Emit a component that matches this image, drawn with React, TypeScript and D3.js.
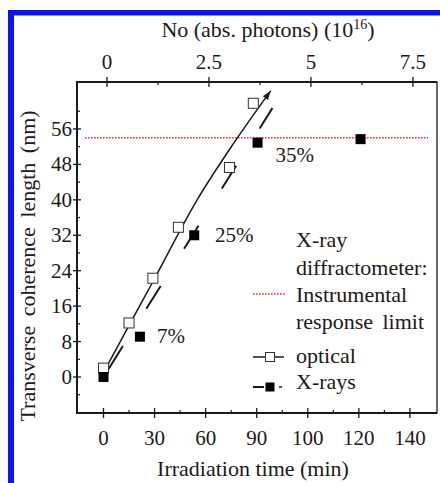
import React from "react";
import * as d3 from "d3";

// ---- data ----
const xTickValues = [0, 30, 60, 90, 120, 150, 180];
const xTickLabels = ["0", "30", "60", "90", "100", "120", "140"];
const yTickValues = [0, 8, 16, 24, 32, 40, 48, 56];
const topTickValues = [0, 2.5, 5, 7.5];
const topTickLabels = ["0", "2.5", "5", "7.5"];

const opticalX = [0, 15, 29, 44, 74, 88];
const opticalY = [2, 12.2, 22.3, 33.8, 47.3, 61.8];
const xrayX = [0, 21.4, 53.3, 90.5, 151];
const xrayY = [0, 9.1, 32, 52.9, 53.7];
const fitX = [0, 15.5, 29, 55, 76, 98.2];
const fitY = [1, 12, 21.5, 40, 52.5, 64.6];
const xrayFitX = [0, 99.2];
const xrayFitY = [0, 60.7];
const instrumentLimit = 54;
const pctLabels = ["7%", "25%", "35%"];
const pctX = [31.5, 65.5, 101];
const pctY = [7.7, 30.5, 48.6];

const FONT =
  '"Liberation Serif", "Times New Roman", Times, Tinos, "Noto Serif", "DejaVu Serif", FreeSerif, "Nimbus Roman", serif';

export default function App() {
  const W = 440, H = 483;
  const L = 77, R = 437, T = 82, B = 413;
  const x = d3.scaleLinear().domain([-15.56, 195.9]).range([L, R]);
  const y = d3.scaleLinear().domain([-8.13, 66.6]).range([B, T]);
  const xt = d3.scaleLinear().domain([-0.735, 8.09]).range([L, R]);
  const ink = "#1a1a1a";

  const fitLine = d3
    .line<number>()
    .x((i) => x(fitX[i]))
    .y((i) => y(fitY[i]))
    .curve(d3.curveMonotoneX)(fitX.map((_, i) => i)) as string;
  const xrayLine = d3
    .line<number>()
    .x((i) => x(xrayFitX[i]))
    .y((i) => y(xrayFitY[i]))(xrayFitX.map((_, i) => i)) as string;

  // arrow direction
  const n = fitX.length;
  const ax = x(fitX[n - 1]), ay = y(fitY[n - 1]);
  const bx = x(fitX[n - 2]), by = y(fitY[n - 2]);
  const ang = Math.atan2(ay - by, ax - bx);
  const ah = 9, aw = 3.2;
  const arrow = [
    [ax, ay],
    [ax - ah * Math.cos(ang) + aw * Math.sin(ang), ay - ah * Math.sin(ang) - aw * Math.cos(ang)],
    [ax - ah * Math.cos(ang) - aw * Math.sin(ang), ay - ah * Math.sin(ang) + aw * Math.cos(ang)],
  ]
    .map((p) => p.join(","))
    .join(" ");

  const xMinor = xTickValues.slice(0, -1).map((v) => v + 15);
  const yMinor = d3.range(-4, 66, 8);
  const topMinor = [1.25, 3.75, 6.25];

  const sq = 10;
  const legX = 296;
  const tp = { fontFamily: FONT, fill: ink } as const;

  return (
    <svg
      width={W}
      height={H}
      style={{ position: "absolute", left: 0, top: 0, background: "#fff", fontFamily: FONT }}
    >
      <rect x={0} y={0} width={W} height={H} fill="#fff" />
      {/* blue border */}
      <rect x={8} y={10} width={6} height={H - 10} fill="#0a14f0" />
      <rect x={8} y={10} width={W - 8} height={5.5} fill="#0a14f0" />

      {/* frame */}
      <rect x={L} y={T} width={R - L} height={B - T} fill="none" stroke={ink} strokeWidth={1.3} />
      <line x1={L - 1} x2={R} y1={B} y2={B} stroke={ink} strokeWidth={2} />
      <line x1={L} x2={L} y1={T} y2={B} stroke={ink} strokeWidth={2} />
      <line x1={L - 1} x2={R} y1={T} y2={T} stroke={ink} strokeWidth={2} />

      {/* bottom ticks */}
      {xTickValues.map((v, i) => (
        <g key={"bx" + i}>
          <line x1={x(v)} x2={x(v)} y1={B - 5} y2={B + 5} stroke={ink} strokeWidth={1.3} />
          <text x={x(v)} y={B + 32} textAnchor="middle" fontSize={21} {...tp}>
            {xTickLabels[i]}
          </text>
        </g>
      ))}
      {xMinor.map((v, i) => (
        <line key={"bm" + i} x1={x(v)} x2={x(v)} y1={B - 3} y2={B} stroke={ink} strokeWidth={1.2} />
      ))}
      <text x={253} y={476} textAnchor="middle" fontSize={22} {...tp}>
        Irradiation time (min)
      </text>

      {/* top ticks */}
      {topTickValues.map((v, i) => (
        <g key={"tx" + i}>
          <line x1={xt(v)} x2={xt(v)} y1={T - 5} y2={T + 5} stroke={ink} strokeWidth={1.3} />
          <text x={xt(v)} y={T - 13} textAnchor="middle" fontSize={21} {...tp}>
            {topTickLabels[i]}
          </text>
        </g>
      ))}
      {topMinor.map((v, i) => (
        <line key={"tm" + i} x1={xt(v)} x2={xt(v)} y1={T} y2={T + 3} stroke={ink} strokeWidth={1.2} />
      ))}
      <text x={268} y={37} textAnchor="middle" fontSize={22} {...tp}>
        No (abs. photons) (10
        <tspan dy={-8} fontSize={14}>16</tspan>
        <tspan dy={8}>)</tspan>
      </text>

      {/* y ticks */}
      {yTickValues.map((v, i) => (
        <g key={"y" + i}>
          <line x1={L - 4} x2={L + 4} y1={y(v)} y2={y(v)} stroke={ink} strokeWidth={1.3} />
          <text x={72} y={y(v) + 7} textAnchor="end" fontSize={21} {...tp}>
            {v}
          </text>
        </g>
      ))}
      {yMinor.map((v, i) =>
        y(v) > T + 2 && y(v) < B - 2 ? (
          <line key={"ym" + i} x1={L} x2={L + 3} y1={y(v)} y2={y(v)} stroke={ink} strokeWidth={1.2} />
        ) : null
      )}
      <text
        transform={`translate(35, 266) rotate(-90)`}
        textAnchor="middle"
        fontSize={22}
        wordSpacing={4}
        {...tp}
      >
        Transverse coherence length (nm)
      </text>

      {/* instrumental limit */}
      <line
        x1={85}
        x2={428}
        y1={y(instrumentLimit)}
        y2={y(instrumentLimit)}
        stroke="#e0303a"
        strokeWidth={1.6}
        strokeDasharray="1.6,1.4"
      />

      {/* fit lines */}
      <path d={fitLine} fill="none" stroke={ink} strokeWidth={1.5} />
      <polygon points={arrow} fill={ink} />
      <path
        d={xrayLine}
        fill="none"
        stroke={ink}
        strokeWidth={2}
        strokeDasharray="27,44"
        strokeDashoffset={61.5}
      />

      {/* optical points */}
      {opticalX.map((v, i) => (
        <rect
          key={"o" + i}
          x={x(v) - sq / 2}
          y={y(opticalY[i]) - sq / 2}
          width={sq}
          height={sq}
          fill="#fff"
          stroke="#333"
          strokeWidth={1}
        />
      ))}
      {/* xray points */}
      {xrayX.map((v, i) => (
        <rect
          key={"x" + i}
          x={x(v) - sq / 2}
          y={y(xrayY[i]) - sq / 2}
          width={sq}
          height={sq}
          fill="#000"
        />
      ))}

      {/* percentage labels */}
      {pctLabels.map((t, i) => (
        <text key={"p" + i} x={x(pctX[i])} y={y(pctY[i])} fontSize={21} {...tp}>
          {t}
        </text>
      ))}

      {/* legend */}
      <text x={legX} y={247} fontSize={22} {...tp}>X-ray</text>
      <text x={legX} y={275} fontSize={22} {...tp}>diffractometer:</text>
      <text x={legX} y={302} fontSize={22} {...tp}>Instrumental</text>
      <text x={legX} y={329} fontSize={22} wordSpacing={4} {...tp}>response limit</text>
      <line x1={253} x2={285} y1={294} y2={294} stroke="#e0303a" strokeWidth={1.6} strokeDasharray="1.6,1.4" />

      <line x1={253} x2={284} y1={357} y2={357} stroke={ink} strokeWidth={1.5} />
      <rect x={270 - 4.5} y={357 - 4.5} width={9} height={9} fill="#fff" stroke="#333" strokeWidth={1} />
      <text x={legX} y={363} fontSize={22} {...tp}>optical</text>

      <line x1={253} x2={264} y1={387} y2={387} stroke={ink} strokeWidth={2} />
      <rect x={270 - 4.5} y={387 - 4.5} width={9} height={9} fill="#000" />
      <line x1={279} x2={282} y1={387} y2={387} stroke={ink} strokeWidth={1.5} />
      <text x={legX} y={389} fontSize={22} {...tp}>X-rays</text>
    </svg>
  );
}
